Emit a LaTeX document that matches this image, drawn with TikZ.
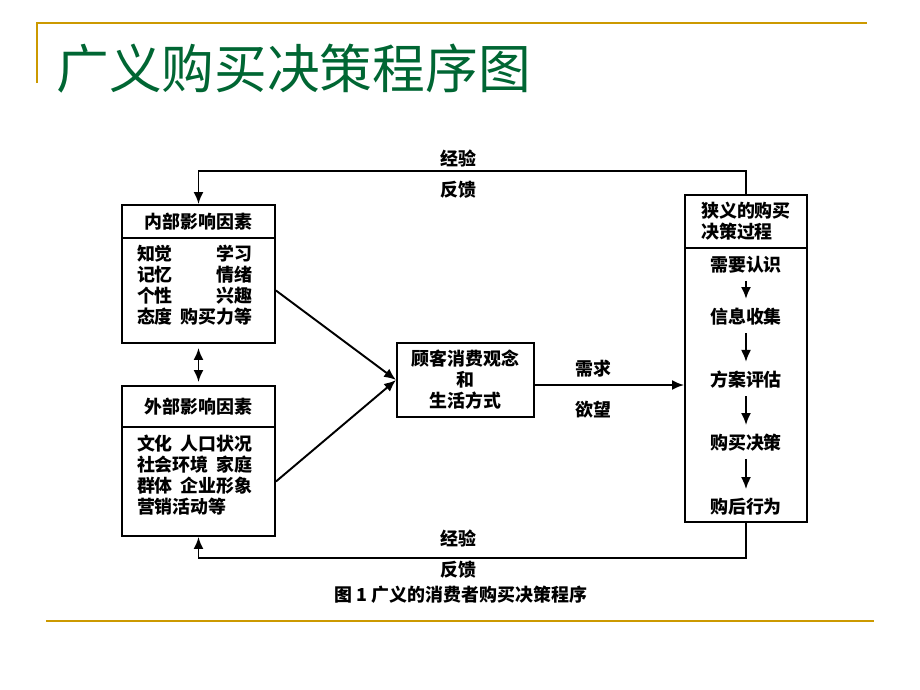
\documentclass[tikz,border=0pt]{standalone}
\usepackage{fontspec}
\newfontfamily\cjk{Noto Sans CJK SC}
\usetikzlibrary{arrows.meta}
\definecolor{pptgold}{RGB}{204,153,0}
\definecolor{titlegreen}{RGB}{0,102,51}

\begin{document}
\begin{tikzpicture}[x=0.02cm,y=-0.02cm,>={Latex[length=0.24cm,width=0.2cm]},box/.style={draw,line width=1.1pt,inner sep=0pt},txt/.style={font=\cjk\bfseries\fontsize{10.2}{12}\selectfont,inner sep=0pt},flow/.style={->,line width=1.1pt},gold/.style={draw=pptgold,line width=1.5pt}]
	\useasboundingbox (0,0) rectangle (920,690);
	% slide frame and title
	\draw[gold] (37,83) -- (37,23) -- (867,23);
	\draw[gold] (46,621) -- (874,621);
	\node[font=\cjk\fontsize{30}{36}\selectfont,text=titlegreen,anchor=west,inner sep=0pt] (title) at (56,69) {广义购买决策程序图};
	% influence boxes
	\node[box,txt,minimum width=3.06cm,minimum height=0.66cm] (inhead) at (198.5,221.5) {内部影响因素};
	\node[box,minimum width=3.06cm,minimum height=2.1cm] (inbody) at (198.5,290.5) {};
	\node[txt,text width=2.3cm,align=left] (inlist) at (194.5,285.5) {知觉\hfill 学习\\记忆\hfill 情绪\\个性\hfill 兴趣\\态度\hfill 购买力等};
	\node[box,txt,minimum width=3.06cm,minimum height=0.82cm] (outhead) at (198.5,406.5) {外部影响因素};
	\node[box,minimum width=3.06cm,minimum height=2.18cm] (outbody) at (198.5,481.5) {};
	\node[txt,text width=2.3cm,align=left] (outlist) at (194.5,475) {文化\hfill 人口状况\\社会环境\hfill 家庭\\群体\hfill 企业形象\\营销活动等};
	% concept box
	\node[box,txt,minimum width=2.74cm,minimum height=1.48cm,align=center] (cons) at (465.5,380) {顾客消费观念\\和\\生活方式};
	% narrow process
	\node[box,txt,minimum width=2.44cm,minimum height=1.06cm,align=left] (rhead) at (746,221.5) {狭义的购买\\决策过程};
	\node[box,minimum width=2.44cm,minimum height=5.48cm] (rbody) at (746,385) {};
	\node[txt] (need) at (746,265) {需要认识};
	\node[txt] (info) at (746,317) {信息收集};
	\node[txt] (plan) at (746,380) {方案评估};
	\node[txt] (buy) at (746,443) {购买决策};
	\node[txt] (after) at (746,507) {购后行为};
	\foreach \a/\b in {need/info,info/plan,plan/buy,buy/after}
		\draw[flow,shorten <=0.14cm,shorten >=0.18cm] (\a) -- (\b);
	% connections
	\draw[flow,<->,shorten <=0.08cm,shorten >=0.06cm] (inbody.south) -- (outhead.north);
	\draw[flow] (inbody.east) -- (cons.west);
	\draw[flow] (outbody.east) -- (cons.west);
	\draw[flow] ([yshift=-0.1cm]cons.east) -- ([yshift=-0.1cm]cons.east -| rbody.west);
	\node[txt] (demand) at (593,369) {需求};
	\node[txt] (desire) at (593,410) {欲望};
	% feedback loops
	\coordinate (fbTR) at (746,171);
	\coordinate (fbTL) at (198.5,171);
	\coordinate (fbBR) at (746,558);
	\coordinate (fbBL) at (198.5,558);
	\draw[flow] (rhead.north) -- (fbTR) -- (fbTL) -- (inhead.north);
	\draw[flow] (rbody.south) -- (fbBR) -- (fbBL) -- (outbody.south);
	\node[txt] (topexp) at (458,158) {经验};
	\node[txt] (topfb) at (458,190) {反馈};
	\node[txt] (botexp) at (458,538) {经验};
	\node[txt] (botfb) at (458,570) {反馈};
	\node[font=\cjk\bfseries\fontsize{10.2}{12}\selectfont,inner sep=0pt] (caption) at (461,595) {图 1 广义的消费者购买决策程序};
\end{tikzpicture}
\end{document}
